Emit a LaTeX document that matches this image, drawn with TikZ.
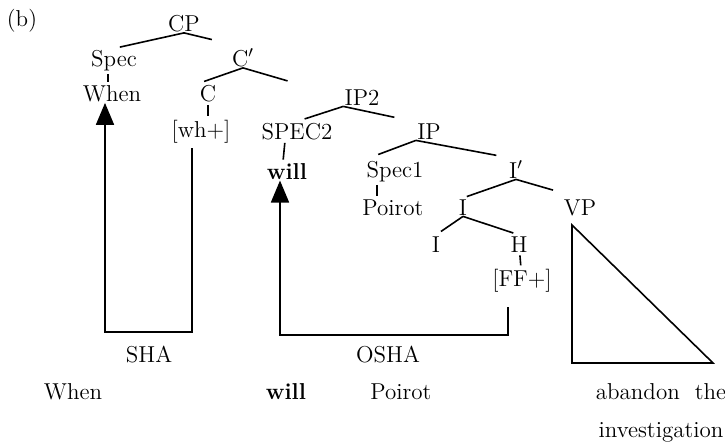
\documentclass[tikz,border=0pt]{standalone}
\usepackage{tikz}
\usetikzlibrary{arrows.meta}

\begin{document}
\begin{tikzpicture}[
    x=0.5pt, y=-0.5pt,
    every node/.style={font=\fontsize{11.5}{13.8}\selectfont, inner sep=0.5pt, anchor=base},
    branch/.style={line width=0.8pt},
    tick/.style={line width=0.8pt, shorten <=1pt, shorten >=1pt},
    move/.style={line width=0.9pt, -{Triangle[width=9pt,length=11pt]}}
]
\useasboundingbox (0,0) rectangle (725,445);

% Tree labels
\node (lbl) at (22,26) {(b)};
\node (CP) at (184,31) {CP};
\node (Spec) at (114,66) {Spec};
\node (Cbar) at (243,66) {C$'$};
\node (When) at (112,101) {When};
\node (C) at (208,101) {C};
\node (whplus) at (201,137) {[wh+]};
\node (IPtwo) at (362,105) {IP2};
\node (SPECtwo) at (297,139) {SPEC2};
\node (IP) at (429,139) {IP};
\node (will) at (287,179) {\textbf{will}};
\node (Specone) at (395,177) {Spec1};
\node (Ibar) at (516,178) {I$'$};
\node (Poirot) at (393,215) {Poirot};
\node (Inode) at (463,215) {I};
\node (VP) at (580,215) {VP};
\node (Ilow) at (436,252) {I};
\node (H) at (519,252) {H};
\node (FF) at (522,286) {[FF+]};

% Branches
\draw[branch, shorten >=3pt] (CP.south) -- (Spec.north);
\draw[branch, shorten >=16pt] (CP.south) -- (Cbar.north);
\draw[tick] ([xshift=-3pt]Spec.south) -- ([xshift=-2pt]When.north);
\draw[branch, shorten >=3pt] (Cbar.south) -- (C.north west);
\draw[branch, shorten >=29pt] (Cbar.south) -- (IPtwo.west);
\draw[tick] (C.south) -- (C.south |- whplus.north);
\draw[branch, shorten >=4pt] (IPtwo.south west) -- (SPECtwo.north);
\draw[branch, shorten >=11pt] (IPtwo.south west) -- (IP.north west);
\draw[tick] ([xshift=-6pt]SPECtwo.south) -- ([xshift=-2pt]will.north);
\draw[branch, shorten >=7pt] (IP.south west) -- (Specone.north west);
\draw[branch, shorten >=10pt] (IP.south west) -- (Ibar.north);
\draw[tick] ([xshift=-9pt]Specone.south) -- ([xshift=-8pt]Poirot.north);
\draw[branch, shorten >=2pt] (Ibar.south) -- (Inode.north);
\draw[branch, shorten >=14pt] (Ibar.south) -- (VP.north);
\draw[branch, shorten >=3pt] (Inode.south) -- (Ilow.north);
\draw[branch, shorten >=3pt] (Inode.south) -- (H.north);
\draw[tick] (H) -- (FF);

% VP triangle
\draw[branch, line join=miter] (572,225) -- (572,363) -- (713,363) -- cycle;

% Movement brackets
\coordinate (shaline) at (149,332);
\coordinate (oshaline) at (388,335);
\draw[move] ([xshift=-4.5pt,yshift=-2pt]whplus.south) |- (shaline) -| ([xshift=-3.5pt]When.south);
\draw[move] ([xshift=-7pt,yshift=-7pt]FF.south) |- (oshaline) -| ([xshift=-3.5pt]will.south);
\node (SHA) at (149,362) {SHA};
\node (OSHA) at (388,362) {OSHA};

% Surface string
\node (sWhen) at (73,399) {When};
\node (sWill) at (286,399) {\textbf{will}};
\node (sPoirot) at (401,399) {Poirot};
\node (sAbandon) at (661,399) {abandon\ \ the};
\node (sInvest) at (661,437) {investigation};
\end{tikzpicture}
\end{document}
